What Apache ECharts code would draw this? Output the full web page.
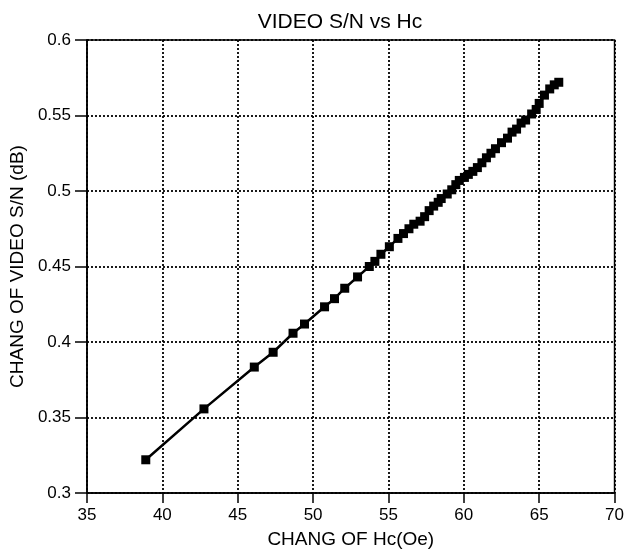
<!DOCTYPE html>
<html>
<head>
<meta charset="utf-8">
<script src="https://cdn.jsdelivr.net/npm/echarts@6/dist/echarts.min.js"></script>
<style>
  html, body { margin: 0; padding: 0; background: #fff; }
  #chart { width: 627px; height: 554px; }
</style>
</head>
<body>
<div id="chart"></div>
<script>
// VIDEO S/N vs Hc
var hcChange = [38.9, 42.76, 46.1, 47.35, 48.67, 49.43, 50.76, 51.42, 52.1, 52.95,
    53.73, 54.1, 54.5, 55.06, 55.63, 56.0, 56.36, 56.68, 57.1, 57.4,
    57.7, 58.0, 58.3, 58.5, 58.9, 59.2, 59.47, 59.7, 60.04, 60.3,
    60.6, 60.9, 61.2, 61.5, 61.8, 62.1, 62.5, 62.9, 63.2, 63.5,
    63.8, 64.1, 64.5, 64.8, 65.0, 65.35, 65.7, 66.0, 66.3];
var snChange = [0.322, 0.3557, 0.3834, 0.3932, 0.4058, 0.4119, 0.4233, 0.4287, 0.4356, 0.4431,
    0.450, 0.4534, 0.4581, 0.4631, 0.4686, 0.4718, 0.475, 0.478, 0.480, 0.483,
    0.487, 0.490, 0.4925, 0.495, 0.498, 0.5008, 0.5042, 0.507, 0.509, 0.511,
    0.513, 0.5155, 0.5187, 0.522, 0.525, 0.528, 0.532, 0.535, 0.539, 0.541,
    0.545, 0.547, 0.551, 0.554, 0.558, 0.5635, 0.5676, 0.5703, 0.572];

var data = [];
for (var i = 0; i < hcChange.length; i++) {
    data.push([hcChange[i], snChange[i]]);
}

var font = '"Liberation Sans", Arial, sans-serif';

var option = {
    backgroundColor: '#fff',
    animation: false,
    title: {
        text: 'VIDEO S/N vs Hc',
        left: 335,
        textAlign: 'center',
        top: 7,
        textStyle: { fontSize: 21, fontWeight: 'normal', color: '#000', fontFamily: font }
    },
    grid: {
        left: 81, right: 6, top: 40, bottom: 59,
        show: true, borderColor: '#000', borderWidth: 1.5
    },
    xAxis: {
        type: 'value',
        min: 35, max: 70, interval: 5,
        name: 'CHANG OF Hc(Oe)',
        nameLocation: 'middle',
        nameGap: 37,
        nameTextStyle: { fontSize: 19, color: '#000', fontFamily: font },
        axisLine: { show: true, onZero: false, lineStyle: { color: '#000', width: 1.5 } },
        axisTick: { show: true, inside: false, length: 10, lineStyle: { color: '#000', width: 1.5 } },
        axisLabel: { fontSize: 17, color: '#000', fontFamily: font, margin: 14 },
        splitLine: { show: true, lineStyle: { type: [2, 2], color: '#000', width: 1.8 } }
    },
    yAxis: {
        type: 'value',
        min: 0.3, max: 0.6, interval: 0.05,
        name: 'CHANG OF VIDEO S/N (dB)',
        nameLocation: 'middle',
        nameGap: 52,
        nameTextStyle: { fontSize: 19, color: '#000', fontFamily: font },
        axisLine: { show: true, onZero: false, lineStyle: { color: '#000', width: 1.5 } },
        axisTick: { show: true, inside: false, length: 12, lineStyle: { color: '#000', width: 1.5 } },
        axisLabel: {
            fontSize: 17, color: '#000', fontFamily: font, margin: 16,
            formatter: function (v) { return String(Math.round(v * 100) / 100); }
        },
        splitLine: { show: true, lineStyle: { type: [2, 2], color: '#000', width: 1.8 } }
    },
    series: [{
        type: 'line',
        data: data,
        symbol: 'rect',
        symbolSize: 9,
        itemStyle: { color: '#000' },
        lineStyle: { color: '#000', width: 2.5 }
    }]
};

var chart = echarts.init(document.getElementById('chart'));
chart.setOption(option);
</script>
</body>
</html>
